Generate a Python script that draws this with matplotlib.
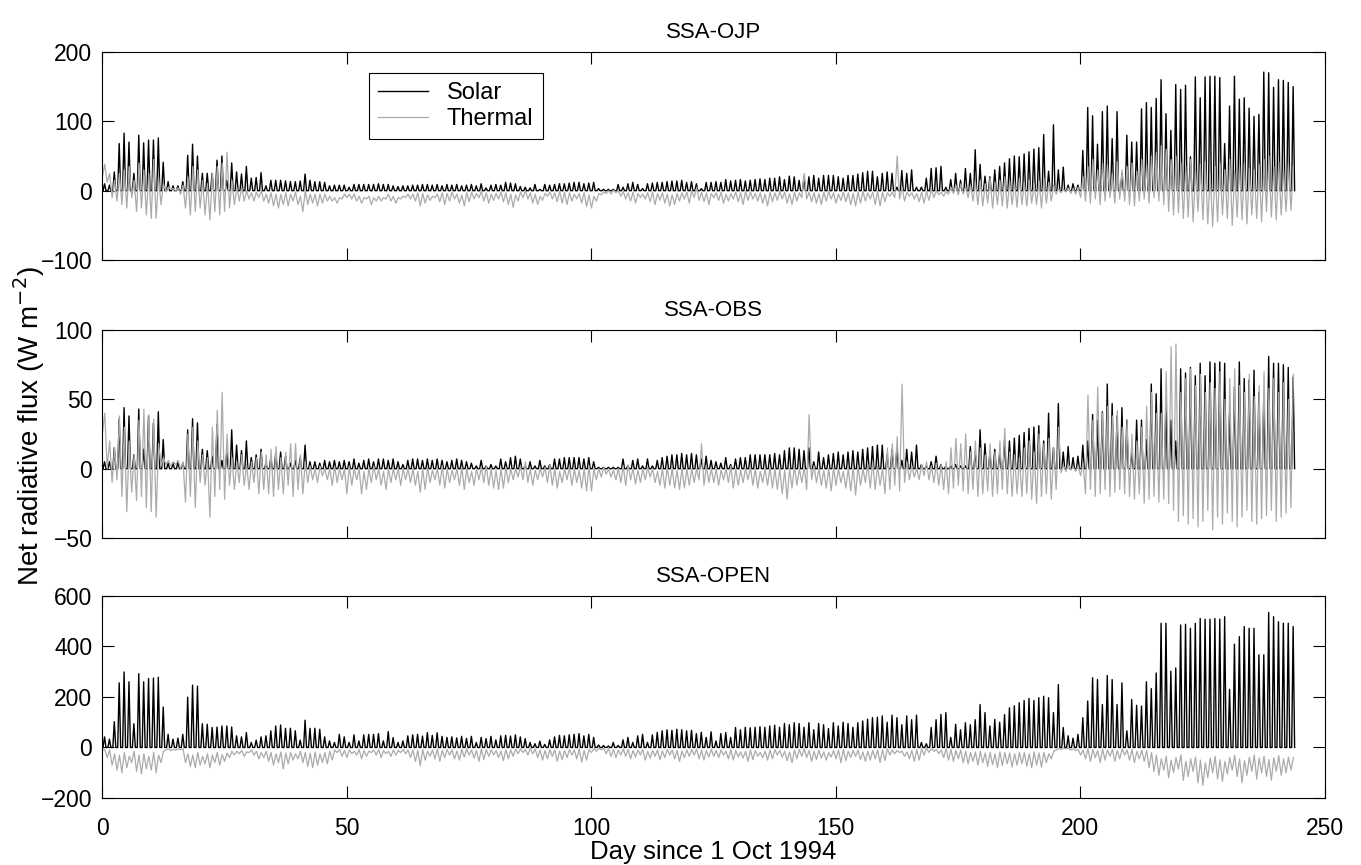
import numpy as np
from matplotlib import pyplot as plt

plt.rcParams['font.family'] = ['Liberation Sans', 'DejaVu Sans']
plt.rcParams['font.size'] = 16

#--- Data: one value per day, day 0 = 1 Oct 1994 -------------------------------#
# solar = daily peak of net solar flux, thermal lo/hi = night and day values

ojp_solar = [
    10, 8, 27, 68, 83, 70, 25, 80, 69, 73, 73, 76, 41, 13, 7, 7, 13, 51, 67, 50,
    25, 25, 25, 44, 50, 15, 40, 27, 24, 35, 18, 19, 26, 7, 15, 15, 15, 14, 13, 13,
    14, 24, 15, 13, 13, 12, 7, 8, 8, 8, 5, 9, 9, 9, 9, 9, 10, 9, 9, 7,
    6, 7, 7,
    8, 8, 9, 9, 8, 9, 7, 9, 8, 9, 7, 8, 9, 7, 10, 4, 8, 9, 8, 12,
    11, 10, 6, 5, 4, 9, 2, 9, 8, 9, 10, 10, 11, 12, 12, 10, 11, 12, 3, 2,
    2, 2, 9, 5, 10, 12, 9, 3, 10, 11, 12, 12, 13, 14, 14, 15, 12, 13, 10, 3,
    12, 12,
    13, 12, 16, 14, 15, 16, 14, 15, 16, 17, 16, 18, 18, 20, 16, 21, 20, 15, 20, 20,
    22, 18, 22, 22, 22, 20, 18, 22, 22, 24, 26, 28, 28, 20, 25, 27, 25, 5, 29, 25,
    30, 5, 5, 18, 32, 33, 35, 5, 16, 25, 15, 32, 25, 59, 38, 21, 20, 30, 35, 40,
    46, 50, 49,
    53, 56, 60, 62, 81, 28, 95, 30, 34, 8, 10, 8, 58, 120, 108, 67, 114, 122, 75, 114,
    25, 80, 70, 70, 118, 127, 120, 133, 160, 111, 87, 153, 146, 152, 49, 164, 134, 164, 165, 165,
    163, 68, 122, 165, 132, 134, 119, 107, 110, 171, 170, 149, 160, 159, 156, 150]

ojp_thermal_hi = [
    38, 25, 15, 25, 30, 35, 15, 40, 30, 25, 45, 20, 10, 5, 3, 4, 8, 20, 35, 30,
    15, 10, 25, 35, 40, 55, 15, 5, 5, 0, -3, -2, 0, -5, -3, -5, -5, -3, -5, -2,
    -8, 0, -5, -5, -5, -5, -8, -10, -10, -5, -5, -5, -8, -10, -8, -10, -8, -10, -5, -8,
    -10, -8, -5,
    -5, -3, -4, -6, -8, -5, -3, -4, -2, -5, -6, -3, -2, -4, -1, -3, -5, -4, -2, -3,
    -5, -6, -2, 0, -3, -5, -8, -4, -2, -3, -1, -2, -3, -5, -4, -3, -6, -8, -4, -2,
    0, 1, 0, -1, -3, -2, -4, -5, -3, -2, -4, -3, -5, -6, -4, -3, -2, 0, 5, -2,
    -3, -4,
    -3, -2, -5, -4, -2, -3, -1, -2, -4, -3, -5, -2, -3, -1, -2, -4, -2, -3, 25, -2,
    -3, -4, -2, -1, -3, -5, -2, -3, -4, -2, -1, -3, -2, -1, -2, -3, -2, 50, 5, -2,
    -3, -4, -2, -1, 2, 0, -2, -1, 5, 8, 10, 6, 8, 12, 15, 10, 18, 12, 15, 20,
    14, 12, 18,
    12, 15, 10, 14, 18, 12, 8, 3, 2, 4, 3, 5, 20, 35, 45, 30, 40, 38, 25, 42,
    30, 35, 40, 28, 45, 38, 50, 55, 65, 60, 45, 50, 40, 35, 45, 30, 38, 42, 25, 35,
    40, 30, 45, 28, 35, 40, 32, 30, 38, 45, 50, 35, 42, 30, 38, 35]

ojp_thermal_lo = [
    20, 12, -10, -15, -20, -25, -10, -30, -25, -35, -40, -40, -20, -2, 2, 0, -5, -25, -35, -30,
    -25, -35, -42, -30, -35, -30, -25, -20, -15, -15, -12, -15, -10, -15, -18, -22, -25, -20, -22, -15,
    -20, -30, -20, -18, -22, -18, -15, -15, -18, -12, -10, -12, -15, -18, -12, -20, -15, -15, -12, -15,
    -18, -12, -10,
    -12, -15, -22, -18, -14, -10, -16, -20, -15, -12, -18, -22, -16, -12, -10, -15, -18, -14, -12, -16,
    -20, -24, -15, -10, -12, -18, -20, -14, -8, -12, -16, -18, -20, -15, -12, -18, -23, -25, -15, -6,
    -4, -5, -3, -8, -12, -15, -18, -10, -12, -16, -20, -14, -18, -22, -20, -15, -12, -18, -10, -14,
    -16, -20,
    -10, -14, -18, -15, -12, -16, -20, -14, -12, -15, -18, -22, -16, -14, -12, -18, -20, -15, -10, -12,
    -16, -18, -20, -15, -12, -18, -14, -16, -20, -22, -18, -15, -12, -20, -22, -16, -8, -10, -12, -15,
    -8, -12, -16, -18, -14, -10, -6, -8, -5, -4, -6, -5, -10, -15, -20, -22, -18, -25, -20, -22,
    -25, -20, -24,
    -20, -22, -18, -20, -25, -18, -15, -5, -3, -2, -4, -5, -10, -15, -18, -12, -20, -15, -10, -18,
    -12, -15, -20, -22, -15, -12, -18, -10, -15, -20, -30, -35, -32, -40, -38, -45, -30, -42, -48, -52,
    -45, -35, -40, -50, -38, -42, -48, -35, -40, -45, -30, -38, -42, -35, -30, -28]

obs_solar = [
    5, 5, 15, 36, 44, 38, 10, 43, 14, 38, 33, 41, 21, 4, 4, 5, 4, 28, 36, 33,
    14, 13, 9, 32, 6, 12, 28, 17, 13, 20, 8, 10, 14, 4, 8, 11, 12, 9, 4, 6,
    8, 17, 5, 5, 4, 6, 5, 6, 5, 6, 5, 7, 4, 6, 7, 5, 7, 7, 6, 7,
    5, 3, 6,
    7, 7, 6, 7, 6, 7, 6, 5, 6, 7, 6, 5, 4, 2, 6, 2, 3, 2, 7, 5,
    8, 9, 7, 2, 5, 2, 6, 2, 3, 7, 7, 8, 8, 8, 8, 7, 8, 5, 1, 1,
    1, 1, 1, 7, 2, 6, 7, 2, 7, 2, 6, 8, 9, 10, 10, 11, 10, 11, 10, 7,
    9, 6,
    5, 4, 8, 3, 7, 8, 8, 10, 10, 10, 10, 10, 11, 10, 13, 15, 15, 14, 13, 15,
    5, 12, 8, 10, 11, 12, 10, 12, 13, 12, 14, 15, 16, 17, 17, 10, 14, 15, 6, 14,
    12, 17, 3, 2, 5, 9, 3, 2, 2, 3, 2, 2, 16, 12, 28, 18, 11, 14, 11, 21,
    20, 22, 24,
    26, 29, 30, 31, 20, 40, 15, 47, 12, 16, 8, 9, 17, 20, 39, 35, 41, 61, 47, 38,
    44, 35, 11, 35, 35, 21, 61, 54, 72, 50, 35, 20, 72, 69, 73, 67, 76, 67, 77, 76,
    77, 76, 40, 59, 77, 65, 64, 71, 55, 52, 81, 76, 76, 75, 73, 66]

obs_thermal_hi = [
    40, 20, 15, 38, 30, 20, 10, 35, 43, 39, 36, 18, 8, 6, 5, 6, 5, 25, 30, 20,
    10, 8, 30, 42, 55, 25, 8, 5, 10, 3, 5, 8, 12, 10, 14, 16, 8, 12, 18, 18,
    10, 5, 2, 0, 2, 0, 0, 2, 0, 0, 2, 0, 0, -2, 0, 2, 0, -2, 0, 0,
    0, 0, 0,
    0, -2, 0, 1, -1, 0, 2, 0, -1, 0, 1, 0, -2, 0, 1, 2, 0, -1, 0, 1,
    0, 0, 2, 5, 0, -1, 0, 1, 3, 0, -2, 0, 1, 0, -1, 0, 2, 0, 0, 1,
    0, -1, 0, 2, 3, 0, -1, 0, 1, 0, -2, 0, 1, 0, -1, 0, 0, 0, 0, 18,
    2, 0,
    0, -1, 0, 2, 0, -1, 0, 1, 0, -2, 0, 1, 0, 0, -1, 0, 2, 0, 1, 39,
    2, 0, -1, 0, 1, 0, -2, 0, 1, 2, 0, 3, 5, 2, 0, 15, 18, 23, 61, 5,
    2, 0, 3, 5, 2, 4, 3, 5, 15, 22, 18, 25, 12, 20, 15, 10, 18, 12, 20, 29,
    12, 10, 8,
    15, 20, 12, 25, 18, 22, 15, 30, 2, 3, 1, 2, 4, 53, 35, 59, 40, 45, 38, 42,
    30, 35, 25, 20, 30, 45, 55, 40, 40, 70, 88, 90, 55, 65, 72, 60, 68, 55, 62, 58,
    70, 50, 65, 72, 60, 55, 68, 52, 60, 70, 58, 65, 55, 62, 50, 68]

obs_thermal_lo = [
    25, 0, -10, -8, -20, -31, -17, -23, -20, -28, -31, -35, 2, 3, 2, 3, 0, -24, -20, -28,
    -10, -12, -35, -20, -15, -22, -12, -15, -10, -12, -15, -10, -18, -15, -18, -20, -15, -18, -12, -20,
    -15, -18, -10, -8, -10, -5, -8, -12, -10, -8, -18, -12, -8, -18, -15, -10, -8, -12, -15, -10,
    -8, -12, -8,
    -10, -12, -17, -15, -10, -8, -12, -14, -10, -8, -12, -15, -10, -12, -8, -10, -12, -14, -15, -14,
    -10, -8, -6, -8, -10, -12, -8, -6, -10, -12, -14, -10, -8, -12, -10, -14, -16, -16, -8, -6,
    -4, -6, -8, -10, -12, -8, -11, -10, -8, -6, -10, -12, -14, -12, -14, -15, -14, -12, -10, -8,
    -12, -10,
    -10, -12, -8, -10, -14, -12, -10, -8, -12, -14, -10, -12, -14, -15, -18, -22, -14, -12, -10, -15,
    -8, -10, -12, -14, -16, -12, -10, -14, -16, -19, -12, -10, -14, -15, -12, -18, -15, -12, -16, -10,
    -8, -6, -8, -5, -8, -10, -12, -15, -18, -14, -12, -16, -18, -15, -20, -18, -16, -20, -18, -15,
    -18, -20, -18,
    -20, -18, -22, -25, -20, -18, -22, -15, -3, -2, -1, -2, -5, -18, -15, -20, -18, -15, -20, -17,
    -15, -18, -20, -22, -18, -25, -22, -20, -24, -22, -25, -30, -38, -34, -40, -36, -42, -38, -30, -44,
    -35, -40, -32, -38, -42, -35, -30, -38, -40, -36, -34, -30, -38, -35, -32, -28]

open_solar = [
    42, 33, 102, 256, 299, 260, 94, 292, 260, 273, 275, 278, 160, 52, 33, 37, 52, 199, 247, 243,
    94, 92, 79, 81, 85, 85, 81, 46, 42, 59, 20, 29, 42, 46, 66, 85, 89, 76, 76, 66,
    29, 108, 76, 76, 72, 42, 26, 20, 52, 42, 20, 50, 26, 50, 52, 52, 55, 26, 63, 39,
    20, 26, 46,
    50, 52, 45, 59, 48, 58, 44, 40, 42, 38, 44, 36, 44, 20, 40, 35, 44, 30, 46, 48,
    45, 50, 42, 35, 20, 15, 25, 12, 30, 42, 48, 46, 50, 52, 55, 46, 52, 40, 10, 8,
    6, 20, 8, 30, 40, 20, 46, 52, 20, 50, 60, 66, 70, 68, 72, 70, 66, 68, 55, 60,
    40, 62,
    26, 55, 59, 40, 79, 70, 80, 78, 80, 82, 80, 85, 88, 80, 95, 90, 98, 95, 80, 98,
    70, 95, 90, 75, 98, 85, 100, 95, 80, 98, 105, 112, 118, 120, 125, 100, 128, 118, 90, 125,
    110, 128, 20, 15, 79, 110, 131, 138, 40, 92, 70, 98, 90, 110, 170, 138, 85, 111, 100, 130,
    157, 165, 177,
    186, 194, 186, 197, 203, 197, 138, 249, 79, 46, 37, 52, 118, 184, 276, 269, 170, 285, 269, 170,
    256, 66, 190, 167, 164, 260, 233, 295, 492, 492, 302, 315, 485, 488, 472, 492, 511, 508, 508, 511,
    508, 518, 230, 409, 439, 479, 472, 472, 367, 367, 535, 518, 498, 492, 492, 479]

open_thermal_hi = [
    -8, -10, -25, -30, -20, -35, -15, -30, -25, -35, -20, -30, -15, -5, -8, -6, -5, -25, -30, -20,
    -35, -25, -30, -20, -28, -22, -15, -15, -12, -18, -10, -15, -20, -15, -20, -25, -18, -22, -20, -25,
    -15, -20, -22, -18, -25, -20, -15, -10, -8, -12, -10, -15, -8, -12, -15, -10, -8, -12, -15, -10,
    -12, -8, -10,
    -10, -12, -8, -15, -10, -6, -12, -8, -10, -14, -8, -5, -10, -12, -6, -8, -10, -12, -15, -8,
    -10, -6, -5, -8, -4, -6, -10, -12, -8, -10, -14, -12, -8, -10, -6, -12, -8, -4, -3, -2,
    -4, -8, -10, -6, -8, -12, -10, -8, -15, -12, -10, -14, -8, -10, -12, -15, -10, -8, -6, -10,
    -12, -8,
    -12, -10, -15, -8, -12, -18, -15, -10, -12, -20, -15, -10, -8, -12, -15, -18, -10, -8, -5, -12,
    -15, -10, -18, -20, -12, -10, -8, -15, -12, -10, -18, -15, -12, -10, -8, -5, -10, -12, -15, -18,
    -12, -8, -5, -2, -5, -8, -10, -5, -8, -12, -10, -15, -20, -18, -15, -22, -20, -25, -18, -20,
    -22, -25, -20,
    -20, -25, -18, -22, -20, -25, -15, -5, -3, -2, -5, -8, -10, -5, -8, -12, -6, -10, -8, -12,
    -5, -10, -8, -15, -10, -12, -20, -30, -45, -35, -50, -40, -30, -55, -45, -38, -50, -60, -42, -35,
    -48, -55, -40, -30, -45, -52, -38, -30, -42, -35, -48, -40, -32, -45, -38, -40]

open_thermal_lo = [
    -12, -40, -70, -90, -100, -80, -60, -95, -105, -85, -90, -100, -60, -10, -12, -10, -8, -60, -75, -80,
    -70, -65, -80, -60, -70, -55, -40, -30, -25, -35, -20, -30, -45, -40, -55, -70, -60, -85, -65, -50,
    -45, -60, -75, -80, -70, -60, -65, -50, -20, -35, -40, -25, -30, -45, -35, -20, -30, -40, -25, -35,
    -30, -20, -25,
    -40, -55, -72, -50, -35, -45, -55, -40, -30, -45, -50, -38, -30, -42, -55, -48, -35, -30, -40, -52,
    -45, -35, -25, -20, -30, -25, -40, -50, -45, -35, -55, -48, -40, -30, -45, -58, -50, -20, -15, -10,
    -25, -35, -40, -30, -35, -45, -38, -30, -50, -42, -35, -48, -40, -30, -45, -55, -40, -35, -30, -45,
    -50, -38,
    -35, -40, -30, -45, -50, -38, -42, -55, -48, -35, -40, -50, -45, -30, -38, -52, -60, -45, -35, -40,
    -55, -48, -42, -50, -38, -45, -60, -52, -40, -35, -48, -55, -50, -45, -60, -52, -30, -25, -20, -35,
    -45, -55, -50, -30, -20, -15, -25, -40, -50, -55, -45, -60, -65, -55, -70, -60, -75, -68, -80, -72,
    -65, -78, -70,
    -65, -75, -80, -70, -78, -60, -45, -10, -8, -5, -10, -12, -30, -45, -55, -40, -60, -50, -35, -55,
    -45, -30, -50, -60, -45, -55, -80, -95, -110, -90, -120, -100, -85, -130, -115, -95, -140, -150, -120, -100,
    -125, -135, -105, -90, -115, -140, -110, -95, -125, -100, -115, -130, -95, -110, -100, -90]

sites = ['SSA-OJP', 'SSA-OBS', 'SSA-OPEN']
ylims = [(-100, 200), (-50, 100), (-200, 600)]
yticks = [[-100, 0, 100, 200], [-50, 0, 50, 100], [-200, 0, 200, 400, 600]]
xticks = [0, 50, 100, 150, 200, 250]


#------------------------------------------------------------------------------#
def solar_trace(peaks, hw=0.3):
    # one spike per day: zero at sunrise, peak at noon, zero at sunset
    x = []
    y = []
    for d, p in enumerate(peaks):
        x += [d + 0.5 - hw, d + 0.5, d + 0.5 + hw]
        y += [0, p, 0]
    return x, y


def thermal_trace(lo, hi):
    x = []
    y = []
    for d in range(len(lo)):
        x += [d + 0.05, d + 0.55]
        y += [lo[d], hi[d]]
    return x, y


#------------------------------------------------------------------------------#
fig = plt.figure(figsize=(13.61, 8.65), dpi=100)

boxes = [[0.075, 0.6994, 0.8985, 0.2405],
         [0.075, 0.3780, 0.8985, 0.2405],
         [0.075, 0.0775, 0.8985, 0.2335]]

series = [(ojp_solar, ojp_thermal_lo, ojp_thermal_hi),
          (obs_solar, obs_thermal_lo, obs_thermal_hi),
          (open_solar, open_thermal_lo, open_thermal_hi)]

for i in range(3):
    ax = fig.add_axes(boxes[i])
    solar, lo, hi = series[i]

    sx, sy = solar_trace(solar)
    tx, ty = thermal_trace(lo, hi)
    ax.plot(sx, sy, color='black', linewidth=1.0, label='Solar')
    ax.plot(tx, ty, color='#ababab', linewidth=0.9, label='Thermal')

    ax.set_xlim(0, 250)
    ax.set_ylim(*ylims[i])
    ax.set_xticks(xticks)
    ax.set_yticks(yticks[i])
    ax.tick_params(direction='in', length=8.5, width=0.8, top=True, right=True,
                   labelsize=16.5)
    ax.tick_params(axis='x', pad=14)
    ax.tick_params(axis='y', pad=7)
    for s in ax.spines.values():
        s.set_linewidth(0.8)
    if i < 2:
        ax.set_xticklabels([])
    ax.set_title(sites[i], fontsize=16, pad=10)

    if i == 0:
        leg = ax.legend(loc='upper left', bbox_to_anchor=(0.218, 0.90),
                        borderaxespad=0, fancybox=False, framealpha=1,
                        edgecolor='black', fontsize=17, handlelength=2.1,
                        handletextpad=0.8, borderpad=0.4, labelspacing=0.15)
        leg.get_frame().set_linewidth(0.8)

fig.text(0.524, 0.015, 'Day since 1 Oct 1994', ha='center', va='center', fontsize=18.5)
fig.text(0.021, 0.507, 'Net radiative flux (W m$^{-2}$)', ha='center', va='center',
         rotation=90, fontsize=20)

plt.savefig('out.png', dpi=100)
